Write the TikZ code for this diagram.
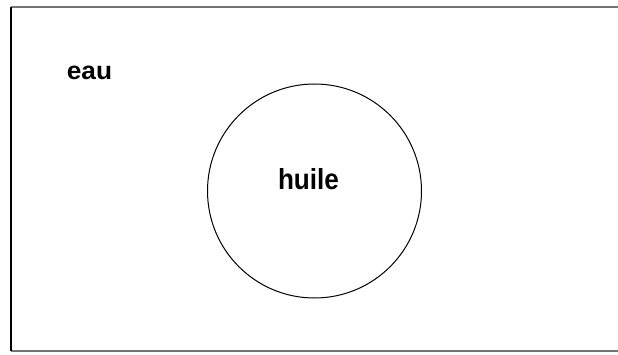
\documentclass[tikz,border=0pt]{standalone}
\usepackage{fontspec}
\setmainfont{Liberation Sans}
\begin{document}
\begin{tikzpicture}[x=1pt,y=-1pt,
  lbl/.style={inner sep=0pt,anchor=base,font=\bfseries},
  huilecircle/.style={draw=black,line width=1pt,circle,minimum size=214pt,inner sep=0pt}]
\useasboundingbox (0,0) rectangle (618,355);
\coordinate (tr) at (620,7);
\coordinate (tl) at (11,7);
\coordinate (bl) at (11,351);
\coordinate (br) at (620,351);
\draw[black!55,line width=1.5pt] (tl) -- (tr);
\draw[black!55,line width=1.5pt] (bl) -- (br);
\draw[black,line width=1.5pt] (tl) -- (bl);
\node[huilecircle] (circ) at (314.5,191) {};
\node[lbl,font=\bfseries\fontsize{25}{25}\selectfont,xscale=1.05] (eau) at (89.5,80) {eau};
\node[lbl,font=\bfseries\fontsize{29}{29}\selectfont,xscale=0.9] (huile) at (308.5,190) {huile};
\end{tikzpicture}
\end{document}
